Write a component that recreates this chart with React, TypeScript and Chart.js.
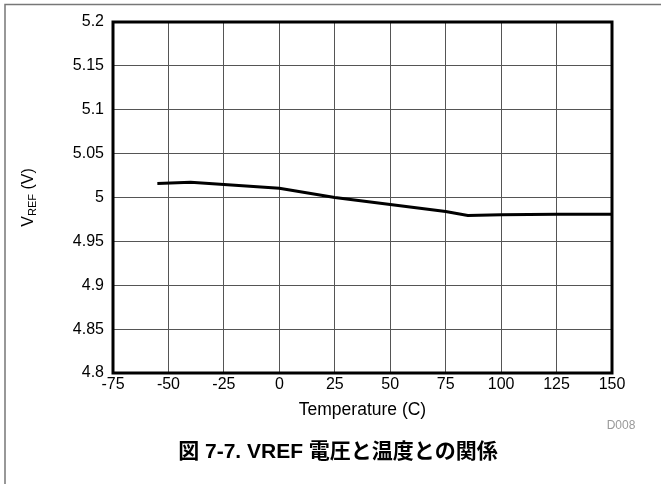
import React, { useEffect, useRef } from "react";
import { Chart, registerables } from "chart.js";

Chart.register(...registerables);

const temperatures = [-55, -40, -25, 0, 25, 50, 75, 85, 100, 125, 150];
const vref = [5.016, 5.0175, 5.0148, 5.0105, 5.0, 4.992, 4.984, 4.9795, 4.9802, 4.981, 4.9808];

const xTitle = "Temperature (C)";
const yTitleMain = "V";
const yTitleSub = "REF";
const yTitleTail = " (V)";
const figureId = "D008";
const caption = "図 7-7. VREF 電圧と温度との関係";

const FONT = "'Liberation Sans', Arial, 'Noto Sans CJK JP', sans-serif";

export default function App() {
  const ref = useRef<HTMLCanvasElement | null>(null);

  useEffect(() => {
    if (!ref.current) return;
    const decor = {
      id: "decor",
      afterDraw(chart: any) {
        const { ctx, chartArea } = chart;
        const { left, right, top, bottom } = chartArea;
        ctx.save();
        // plot frame
        ctx.strokeStyle = "#000";
        ctx.lineWidth = 3;
        ctx.strokeRect(left, top, right - left, bottom - top);
        // outer figure frame (top & left)
        ctx.strokeStyle = "#777";
        ctx.lineWidth = 1.5;
        ctx.beginPath();
        ctx.moveTo(5, 484);
        ctx.lineTo(5, 4.5);
        ctx.lineTo(661, 4.5);
        ctx.stroke();
        // x title
        ctx.fillStyle = "#000";
        ctx.font = "17.5px " + FONT;
        ctx.textAlign = "center";
        ctx.textBaseline = "middle";
        ctx.fillText(xTitle, (left + right) / 2, 410);
        // D008
        ctx.fillStyle = "#999";
        ctx.font = "12px " + FONT;
        ctx.fillText(figureId, 621, 426);
        // caption
        ctx.fillStyle = "#000";
        ctx.font = "bold 21px " + FONT;
        ctx.fillText(caption, 338, 452);
        // y title rotated with subscript
        ctx.translate(28, (top + bottom) / 2);
        ctx.rotate(-Math.PI / 2);
        ctx.textAlign = "left";
        ctx.textBaseline = "alphabetic";
        const bigFont = "16px " + FONT;
        const smallFont = "11px " + FONT;
        ctx.font = bigFont;
        const w1 = ctx.measureText(yTitleMain).width;
        const w3 = ctx.measureText(yTitleTail).width;
        ctx.font = smallFont;
        const w2 = ctx.measureText(yTitleSub).width;
        const total = w1 + w2 + w3;
        let x = -total / 2;
        ctx.font = bigFont;
        ctx.fillText(yTitleMain, x, 5);
        x += w1;
        ctx.font = smallFont;
        ctx.fillText(yTitleSub, x, 8);
        x += w2;
        ctx.font = bigFont;
        ctx.fillText(yTitleTail, x, 5);
        ctx.restore();
      },
    };

    const chart = new Chart(ref.current, {
      type: "line",
      data: {
        datasets: [
          {
            data: temperatures.map((t, i) => ({ x: t, y: vref[i] })),
            borderColor: "#000",
            borderWidth: 3,
            pointRadius: 0,
            tension: 0,
            fill: false,
          },
        ],
      },
      options: {
        responsive: false,
        animation: false,
        layout: { padding: { top: 22, right: 49, left: 0, bottom: 0 } },
        plugins: { legend: { display: false }, tooltip: { enabled: false } },
        scales: {
          x: {
            type: "linear",
            min: -75,
            max: 150,
            ticks: {
              stepSize: 25,
              color: "#000",
              font: { family: FONT, size: 16 },
              padding: 2,
              maxRotation: 0,
            },
            grid: { color: "#555", lineWidth: 1, drawTicks: false },
            border: { display: false },
            afterFit: (s: any) => {
              s.height = 111;
            },
          },
          y: {
            type: "linear",
            min: 4.8,
            max: 5.2,
            ticks: {
              stepSize: 0.05,
              color: "#000",
              font: { family: FONT, size: 16 },
              padding: 9,
              callback: (v: any) => String(Number(Number(v).toFixed(2))),
            },
            grid: { color: "#555", lineWidth: 1, drawTicks: false },
            border: { display: false },
            afterFit: (s: any) => {
              s.width = 113;
            },
          },
        },
      },
      plugins: [decor],
    });
    return () => chart.destroy();
  }, []);

  return (
    <div style={{ position: "fixed", left: 0, top: 0, width: 661, height: 484, background: "#fff" }}>
      <canvas ref={ref} width={661} height={484} style={{ width: 661, height: 484, display: "block" }} />
    </div>
  );
}
